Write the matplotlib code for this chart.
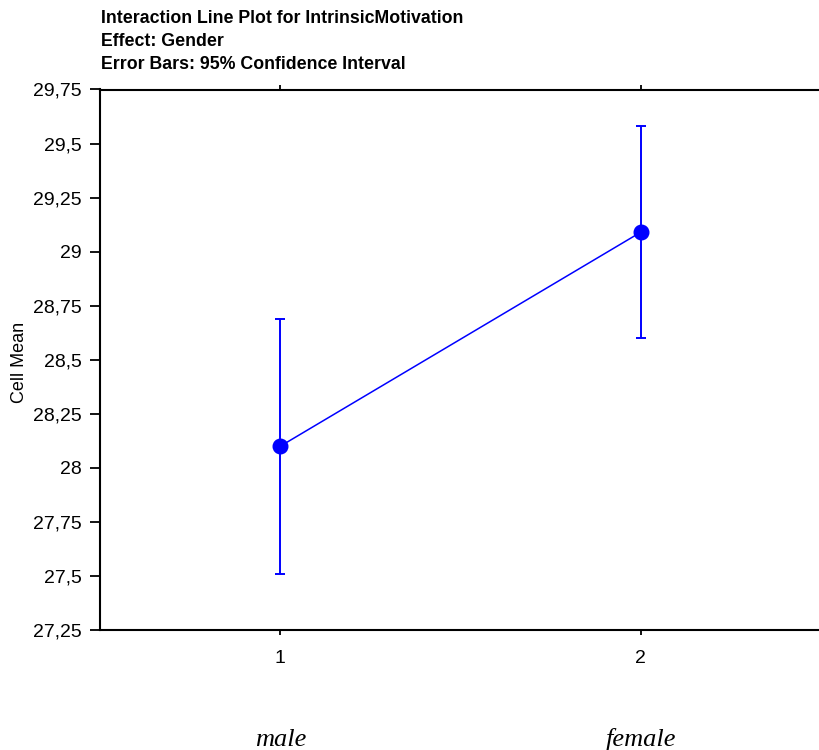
import matplotlib.pyplot as plt
from matplotlib.ticker import FuncFormatter
import matplotlib.transforms as mtransforms

plt.rcParams['font.family'] = ['Liberation Sans', 'DejaVu Sans']

# Cell means with 95% confidence intervals for each gender group
groups = [1, 2]
group_names = ['male', 'female']
cell_means = [28.10, 29.09]
ci_lower = [27.51, 28.60]
ci_upper = [28.69, 29.58]

title_lines = [
    'Interaction Line Plot for IntrinsicMotivation',
    'Effect: Gender',
    'Error Bars: 95% Confidence Interval',
]

yticks = [27.25, 27.5, 27.75, 28, 28.25, 28.5, 28.75, 29, 29.25, 29.5, 29.75]

blue = '#0000ff'

fig = plt.figure(figsize=(8.2, 7.5), dpi=100)
ax = fig.add_axes([100 / 820, 120 / 750, 721 / 820, 540.5 / 750])

err_lo = [m - lo for m, lo in zip(cell_means, ci_lower)]
err_hi = [hi - m for m, hi in zip(cell_means, ci_upper)]
ax.errorbar(groups, cell_means, yerr=[err_lo, err_hi], color=blue,
            linewidth=1.1, elinewidth=1.4, capsize=3.3, capthick=1.4,
            marker='o', markersize=10.5, zorder=3)

ax.set_xlim(0.5, 2.5)
ax.set_ylim(27.25, 29.75)
ax.set_xticks(groups)
ax.set_yticks(yticks)

# decimal comma on the value axis
ax.yaxis.set_major_formatter(FuncFormatter(lambda v, p: f'{v:g}'.replace('.', ',')))

for side in ['left', 'top', 'bottom']:
    ax.spines[side].set_linewidth(1.5)
    ax.spines[side].set_color('black')
ax.spines['right'].set_visible(False)

ax.tick_params(axis='y', direction='out', length=7, width=1.3, pad=6,
               labelsize=14)
ax.tick_params(axis='x', direction='out', length=3.5, width=1.3, pad=11,
               labelsize=14, top=True, labeltop=False)

ax.set_ylabel('Cell Mean', fontsize=13)
ax.yaxis.set_label_coords(-0.100, 0.495)

# group names under the tick numbers
trans = mtransforms.blended_transform_factory(ax.transData, fig.transFigure)
for g, name in zip(groups, group_names):
    ax.text(g, 1 - 746 / 750, name, transform=trans, ha='center', va='baseline',
            fontsize=19, style='italic', family='Liberation Serif')

for i, line in enumerate(title_lines):
    fig.text(101 / 820, 1 - (23 + 23 * i) / 750, line, ha='left', va='baseline',
             fontsize=12.8, fontweight='bold')

fig.savefig('out.png', dpi=100)
